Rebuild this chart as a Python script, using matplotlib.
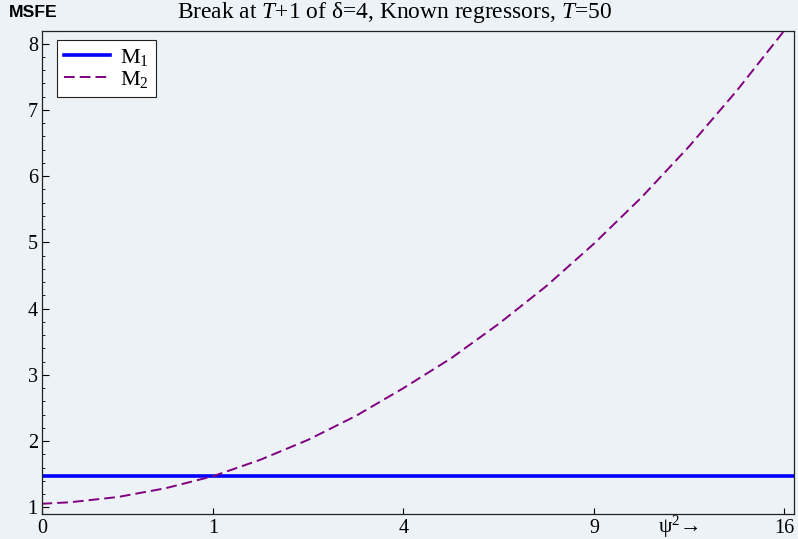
import matplotlib
matplotlib.use('Agg')
import matplotlib.pyplot as plt
from matplotlib.ticker import MultipleLocator

# data (x axis is psi, ticks labelled psi^2)
psi = [0.1, 0.25, 0.5, 0.75, 1.0, 1.25, 1.5, 1.75, 2.0, 2.25,
       2.5, 2.75, 3.0, 3.25, 3.5, 3.75, 4.0]
msfe_m2 = [1.054, 1.077, 1.156, 1.288, 1.47, 1.72, 2.02, 2.38, 2.80, 3.25,
           3.77, 4.34, 4.98, 5.68, 6.45, 7.29, 8.20]
msfe_m1 = 1.466
tick_psi = [1, 2, 3, 4]
tick_labels = ['1', '4', '9', '16']

BG = '#ECF2F6'
SERIF = ['Liberation Serif', 'DejaVu Serif']

plt.rcParams['mathtext.fontset'] = 'custom'
plt.rcParams['mathtext.rm'] = 'Liberation Serif'
plt.rcParams['mathtext.it'] = 'Liberation Serif:italic'
plt.rcParams['font.family'] = SERIF

fig = plt.figure(figsize=(7.98, 5.39), dpi=100, facecolor=BG)
ax = fig.add_axes([0.0526, 0.0464, 0.9424, 0.8961], facecolor=BG)

x0, x1 = 0.1025, 4.05
ax.axhline(msfe_m1, color='#0000FF', lw=2.6, label='M$_1$')
ax.plot(psi, msfe_m2, color='#800080', lw=1.4, dashes=(5.5, 2.6), label='M$_2$')

ax.set_xlim(x0, x1)
ax.set_ylim(0.90, 8.19)

ax.set_xticks([x0] + tick_psi)
ax.set_xticklabels(['0'] + tick_labels)
ax.yaxis.set_major_locator(MultipleLocator(1))
ax.yaxis.set_minor_locator(MultipleLocator(0.2))
ax.tick_params(axis='both', which='both', direction='in', labelsize=14.5,
               top=False, right=False)
ax.tick_params(axis='x', which='major', length=4, width=0.8, pad=3.5)
ax.tick_params(axis='y', which='major', length=5, width=0.8, pad=3)
ax.tick_params(axis='y', which='minor', length=2.5, width=0.6)
for s in ax.spines.values():
    s.set_linewidth(0.9)
    s.set_color('#222222')

leg = ax.legend(loc='upper left', bbox_to_anchor=(0.02, 0.981), borderaxespad=0,
                fontsize=16, fancybox=False, framealpha=1, facecolor='white',
                edgecolor='#222222', handlelength=2.1, handletextpad=0.45,
                labelspacing=0.05, borderpad=0.3)
leg.get_frame().set_linewidth(0.8)

fig.text(0.494, 0.977, r'Break at $\mathit{T}$+1 of δ=4, Known regressors, $\mathit{T}$=50',
         ha='center', va='center', fontsize=16.9)
fig.text(0.011, 0.977, 'MSFE', ha='left', va='center', fontsize=12.6,
         fontweight='bold', family=['Liberation Sans', 'DejaVu Sans'])
fig.text(0.85, 0.012, 'ψ$^2$→', ha='center', va='baseline', fontsize=15.5)

plt.savefig('out.png', dpi=100, facecolor=BG)
plt.close()
